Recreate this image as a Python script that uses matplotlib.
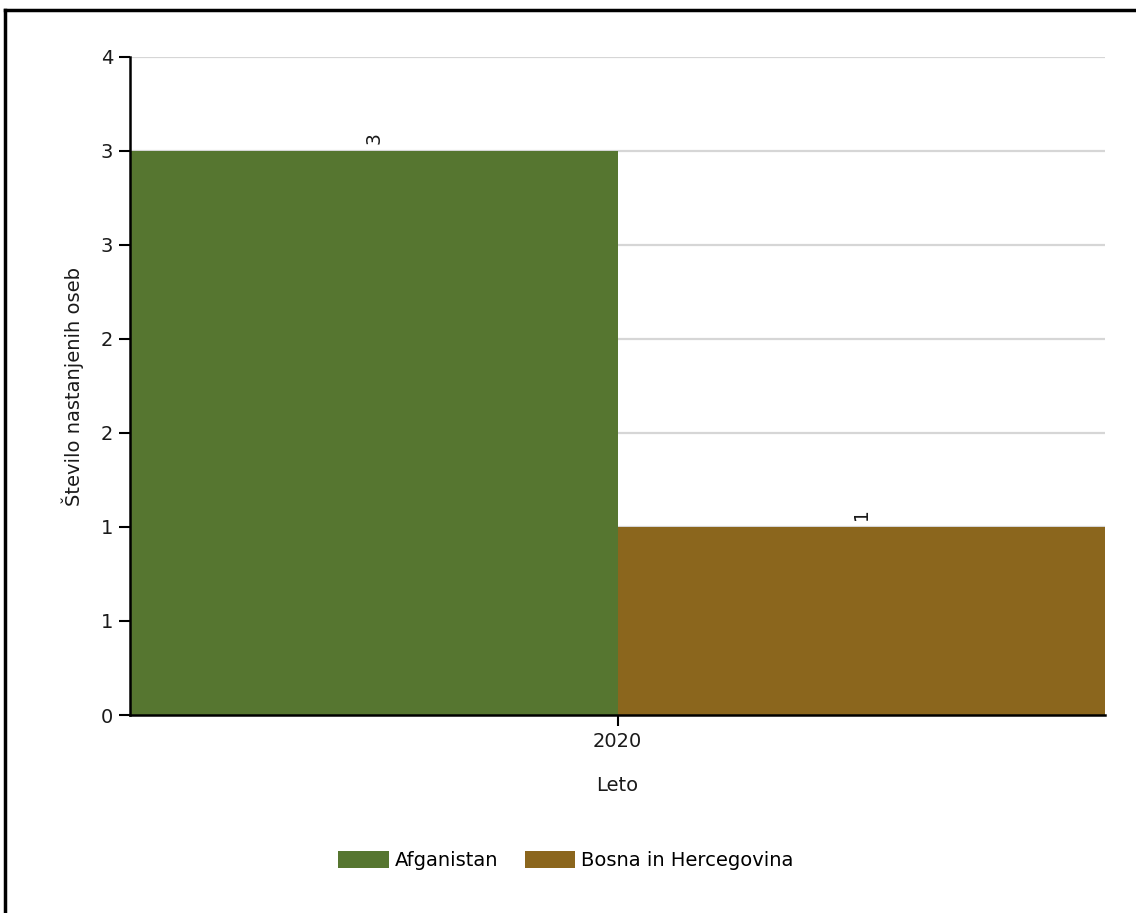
import numpy as np
import matplotlib.pyplot as plt
from matplotlib.lines import Line2D

years = ['2020']
countries = ['Afganistan', 'Bosna in Hercegovina']
values = [3, 1]
colors = ['#567630', '#8B661D']
ytick_vals = [0, 0.5, 1, 1.5, 2, 2.5, 3, 3.5]
ytick_labels = ['0', '1', '1', '2', '2', '3', '3', '4']

plt.rcParams['font.family'] = 'DejaVu Sans'
plt.rcParams['font.size'] = 14

fig = plt.figure(figsize=(11.36, 9.13), dpi=100)
ax = fig.add_axes([130 / 1136, 198 / 913, 975 / 1136, 658 / 913])

bw = 0.5
x = np.arange(len(years))
for i, (c, v) in enumerate(zip(countries, values)):
    bars = ax.bar(x - bw / 2 + i * bw, [v], width=bw, color=colors[i], label=c, zorder=2)
    ax.bar_label(bars, labels=[str(v)], rotation=90, padding=5, fontsize=13.5, color='#1a1a1a')

ax.set_xlim(-bw, bw)
ax.set_ylim(0, 3.5)
ax.set_xticks(x)
ax.set_xticklabels(years)
ax.set_yticks(ytick_vals)
ax.set_yticklabels(ytick_labels)
ax.yaxis.grid(True, color='#d6d6d6', linewidth=1.6, zorder=0)
ax.set_axisbelow(True)

for s in ['top', 'right']:
    ax.spines[s].set_visible(False)
for s in ['left', 'bottom']:
    ax.spines[s].set_linewidth(1.8)
ax.tick_params(axis='both', length=8, width=1.5, colors='black', labelcolor='#1a1a1a', pad=4)

ax.set_ylabel('Število nastanjenih oseb', labelpad=12, color='#1a1a1a')
ax.set_xlabel('Leto', labelpad=18, color='#1a1a1a')

ax.legend(loc='upper center', bbox_to_anchor=(0.447, -0.18), ncol=2, frameon=False,
          handlelength=2.6, handleheight=0.95, columnspacing=1.35, handletextpad=0.3)

# outer frame (left and top edges)
fig.add_artist(Line2D([5 / 1136, 5 / 1136], [0, 1 - 10 / 913], color='black', linewidth=2.5,
                      transform=fig.transFigure))
fig.add_artist(Line2D([5 / 1136, 1], [1 - 10 / 913, 1 - 10 / 913], color='black', linewidth=2.5,
                      transform=fig.transFigure))

fig.savefig('out.png', dpi=100)
